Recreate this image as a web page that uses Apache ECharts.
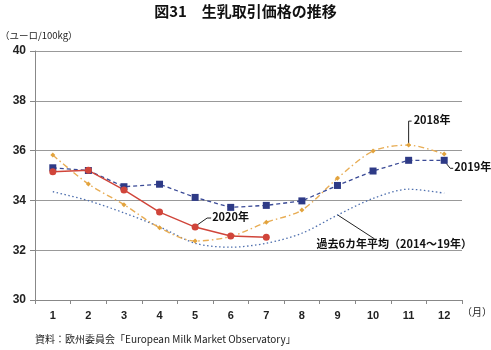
<!DOCTYPE html>
<html><head><meta charset="utf-8">
<script src="https://cdn.jsdelivr.net/npm/echarts@6/dist/echarts.min.js"></script>
<style>html,body{margin:0;padding:0;background:#fff}#c{width:491px;height:350px}</style>
</head><body><div id="c"></div>
<script>
const months = ['1','2','3','4','5','6','7','8','9','10','11','12'];
const y2018 = [35.82,34.66,33.83,32.9,32.37,32.55,33.12,33.61,34.89,35.98,36.22,35.86];
const y2019 = [35.31,35.2,34.55,34.65,34.12,33.72,33.8,33.98,34.6,35.18,35.61,35.61];
const y2020 = [35.15,35.21,34.42,33.53,32.93,32.57,32.52];
const avg = [34.35,33.99,33.5,32.94,32.28,32.12,32.28,32.68,33.41,34.08,34.45,34.29];
const yTicks = [30,32,34,36,38,40];

const F = '"Noto Sans CJK JP", "Liberation Sans", sans-serif';
const FN = '"Liberation Sans", Arial, sans-serif';
const chart = echarts.init(document.getElementById('c'));
chart.setOption({
  animation:false,
  grid:{left:35,right:29,top:51,bottom:50},
  xAxis:{type:'category',data:months,boundaryGap:true,
    axisLine:{lineStyle:{color:'#888'}},
    axisTick:{show:true,alignWithLabel:false,length:4,inside:false,lineStyle:{color:'#888'}},
    axisLabel:{color:'#222',fontSize:11,fontWeight:'bold',fontFamily:FN,margin:10}},
  yAxis:{type:'value',min:30,max:40,interval:2,
    axisLine:{show:true,lineStyle:{color:'#888'}},
    axisTick:{show:true,length:5,lineStyle:{color:'#888'}},
    splitLine:{lineStyle:{color:'#999'}},
    axisLabel:{color:'#222',fontSize:12,fontWeight:'bold',fontFamily:FN,margin:9}},
  series:[
    {name:'過去6カ年平均',type:'line',data:avg,showSymbol:false,smooth:0.3,
     lineStyle:{color:'#4e6fae',width:1.3,type:[1.5,2.5]}},
    {name:'2018年',type:'line',data:y2018,symbol:'diamond',symbolSize:5,smooth:0.3,
     itemStyle:{color:'#e2a33d'},lineStyle:{color:'#e8ad55',width:1.4,type:[6,3,1.5,3]}},
    {name:'2019年',type:'line',data:y2019,symbol:'rect',symbolSize:7,
     itemStyle:{color:'#2e3a86'},lineStyle:{color:'#3a4a96',width:1.3,type:[4,3]}},
    {name:'2020年',type:'line',data:y2020,symbol:'circle',symbolSize:7,
     itemStyle:{color:'#d0453a'},lineStyle:{color:'#d0453a',width:1.4}}
  ]
});

function px(i,v){return chart.convertToPixel({xAxisIndex:0,yAxisIndex:0},[i,v]);}
const tStyle = {fill:'#111',fontSize:11,fontFamily:F,fontWeight:'bold'};
const lc = {stroke:'#222',lineWidth:1};
const p18 = px(10,y2018[10]);
const p19 = px(11,y2019[11]);
const p20 = px(4,y2020[4]);
const pAv = px(8.05,33.42);
chart.setOption({graphic:[
  {type:'text',left:'center',top:4,style:{text:'図31　生乳取引価格の推移',fill:'#111',fontSize:15,fontWeight:'bold',fontFamily:F}},
  {type:'text',left:0,top:31,style:{text:'（ユーロ/100kg）',fill:'#222',fontSize:9.5,fontFamily:F}},
  {type:'text',left:462,top:307,style:{text:'（月）',fill:'#222',fontSize:10,fontFamily:F}},
  {type:'text',left:35,top:334,style:{text:'資料：欧州委員会「European Milk Market Observatory」',fill:'#222',fontSize:10,fontFamily:F}},
  {type:'polyline',shape:{points:[[p18[0],p18[1]-2],[p18[0],p18[1]-24],[p18[0]+3,p18[1]-24]]},style:lc},
  {type:'text',x:p18[0]+5,y:p18[1]-31,style:Object.assign({text:'2018年'},tStyle)},
  {type:'polyline',shape:{points:[[p19[0]+2,p19[1]+3],[p19[0]+6,p19[1]+8],[p19[0]+9,p19[1]+8]]},style:lc},
  {type:'text',x:p19[0]+10,y:p19[1]+1,style:Object.assign({text:'2019年'},tStyle)},
  {type:'polyline',shape:{points:[[p20[0]+2,p20[1]-2],[p20[0]+12,p20[1]-9],[p20[0]+16,p20[1]-9]]},style:lc},
  {type:'text',x:p20[0]+17,y:p20[1]-16,style:Object.assign({text:'2020年'},tStyle)},
  {type:'line',shape:{x1:pAv[0],y1:pAv[1],x2:pAv[0]+37,y2:pAv[1]+24},style:lc},
  {type:'text',x:pAv[0]-21,y:pAv[1]+23,style:Object.assign({text:'過去6カ年平均（2014～19年）'},tStyle)}
]});
</script></body></html>
